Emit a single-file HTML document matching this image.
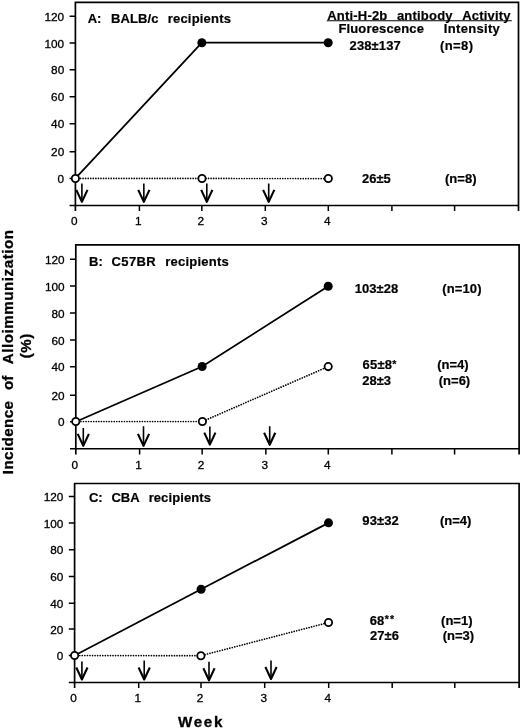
<!DOCTYPE html><html><head><meta charset="utf-8"><title>chart</title><style>
html,body{margin:0;padding:0;background:#fff}svg{display:block;filter:grayscale(1)}
text{font-family:"Liberation Sans",sans-serif;fill:#000}
.b{font-weight:bold;font-size:13px;stroke:#000;stroke-width:.2px}.t{font-size:11.8px;stroke:#000;stroke-width:.3px}.ax{font-weight:bold;font-size:15.2px;stroke:#000;stroke-width:.3px}
.l{fill:none;stroke:#000}
</style></head><body>
<svg width="520" height="728" viewBox="0 0 520 728">
<rect width="520" height="728" fill="#fff"/>
<path class="l" stroke-width="1.7" d="M75.4 211.05V2.3H518.5V211.05"/>
<path class="l" stroke-width="1.5" d="M69.60 205.45H518.5M69.60 16.15H75.4M69.60 42.9H75.4M69.60 69.85H75.4M69.60 96.8H75.4M69.60 123.8H75.4M69.60 151.85H75.4M69.60 178.45H75.4M139.4 205.45V211.05M201.85 205.45V211.05M265.3 205.45V211.05M328.3 205.45V211.05M391.9 205.45V211.05M454.6 205.45V211.05"/>
<text class="t" x="44.50" y="20.75">120</text>
<text class="t" x="44.50" y="47.50">100</text>
<text class="t" x="51.08" y="74.45">80</text>
<text class="t" x="51.08" y="101.40">60</text>
<text class="t" x="51.08" y="128.40">40</text>
<text class="t" x="51.08" y="156.45">20</text>
<text class="t" x="57.62" y="183.05">0</text>
<text class="t" x="71.11" y="225.35">0</text>
<text class="t" x="135.11" y="225.35">1</text>
<text class="t" x="197.56" y="225.35">2</text>
<text class="t" x="261.01" y="225.35">3</text>
<text class="t" x="324.01" y="225.35">4</text>
<text class="b" x="87.74" y="22.5" letter-spacing="0.000">A:</text>
<text class="b" x="111.10" y="22.5" letter-spacing="0.070">BALB/c</text>
<text class="b" x="167.80" y="22.5" letter-spacing="0.186">recipients</text>
<polyline class="l" points="75.4,178.45 202.0,178.45 328.3,178.55" stroke-width="1.7" stroke-linecap="round" stroke-dasharray="0.01 2.55"/>
<polyline class="l" points="75.4,178.45 201.85,42.7 328.2,42.7" stroke-width="1.8"/>
<path class="l" stroke-width="1.6" d="M81.9 183.5V201.90M143.85 183.5V201.90M206.8 183.5V201.90M268.7 183.5V201.90"/>
<path class="l" stroke-width="2.1" stroke-linejoin="round" d="M76.30 189.90L81.9 201.90L87.50 189.90M138.25 189.90L143.85 201.90L149.45 189.90M201.20 189.90L206.8 201.90L212.40 189.90M263.10 189.90L268.7 201.90L274.30 189.90"/>
<circle cx="201.85" cy="42.7" r="4.5"/>
<circle cx="328.2" cy="42.7" r="4.5"/>
<circle cx="75.4" cy="178.45" r="3.65" fill="#fff" stroke="#000" stroke-width="1.8"/>
<circle cx="202.0" cy="178.45" r="3.65" fill="#fff" stroke="#000" stroke-width="1.8"/>
<circle cx="328.3" cy="178.55" r="3.65" fill="#fff" stroke="#000" stroke-width="1.8"/>
<path class="l" stroke-width="1.7" d="M75.8 454.40V244.9H519.1V454.40"/>
<path class="l" stroke-width="1.5" d="M70.00 448.8H519.1M70.00 259.2H75.8M70.00 286.0H75.8M70.00 312.9H75.8M70.00 340.0H75.8M70.00 366.8H75.8M70.00 395.2H75.8M70.00 421.7H75.8M139.6 448.8V454.40M202.15 448.8V454.40M265.85 448.8V454.40M328.3 448.8V454.40M391.9 448.8V454.40M454.6 448.8V454.40"/>
<text class="t" x="44.90" y="263.80">120</text>
<text class="t" x="44.90" y="290.60">100</text>
<text class="t" x="51.47" y="317.50">80</text>
<text class="t" x="51.47" y="344.60">60</text>
<text class="t" x="51.47" y="371.40">40</text>
<text class="t" x="51.47" y="399.80">20</text>
<text class="t" x="58.02" y="426.30">0</text>
<text class="t" x="71.51" y="468.70">0</text>
<text class="t" x="135.31" y="468.70">1</text>
<text class="t" x="197.86" y="468.70">2</text>
<text class="t" x="261.56" y="468.70">3</text>
<text class="t" x="324.01" y="468.70">4</text>
<text class="b" x="89.04" y="266.3" letter-spacing="0.000">B:</text>
<text class="b" x="111.60" y="266.3" letter-spacing="0.344">C57BR</text>
<text class="b" x="165.20" y="266.3" letter-spacing="0.231">recipients</text>
<polyline class="l" points="75.8,421.5 202.4,421.5 328.2,366.6" stroke-width="1.7" stroke-linecap="round" stroke-dasharray="0.01 2.55"/>
<polyline class="l" points="75.8,421.7 202.15,366.5 328.2,286.2" stroke-width="1.8"/>
<path class="l" stroke-width="1.6" d="M83.3 428.1V445.90M143.5 426.2V445.90M209.85 426.4V444.60M269.7 426.2V444.80"/>
<path class="l" stroke-width="2.1" stroke-linejoin="round" d="M77.70 433.90L83.3 445.90L88.90 433.90M137.90 433.90L143.5 445.90L149.10 433.90M204.25 432.60L209.85 444.60L215.45 432.60M264.10 432.80L269.7 444.80L275.30 432.80"/>
<circle cx="202.15" cy="366.5" r="4.5"/>
<circle cx="328.2" cy="286.2" r="4.5"/>
<circle cx="75.8" cy="421.5" r="3.65" fill="#fff" stroke="#000" stroke-width="1.8"/>
<circle cx="202.4" cy="421.5" r="3.65" fill="#fff" stroke="#000" stroke-width="1.8"/>
<circle cx="328.2" cy="366.6" r="3.65" fill="#fff" stroke="#000" stroke-width="1.8"/>
<path class="l" stroke-width="1.7" d="M74.6 688.10V483.5H519.1V688.10"/>
<path class="l" stroke-width="1.5" d="M68.80 682.5H519.1M68.80 496.4H74.6M68.80 523.0H74.6M68.80 549.8H74.6M68.80 576.5H74.6M68.80 603.3H74.6M68.80 628.9H74.6M68.80 655.5H74.6M138.7 682.5V688.10M201.0 682.5V688.10M264.7 682.5V688.10M328.7 682.5V688.10M392.2 682.5V688.10M454.8 682.5V688.10"/>
<text class="t" x="43.70" y="501.00">120</text>
<text class="t" x="43.70" y="527.60">100</text>
<text class="t" x="50.27" y="554.40">80</text>
<text class="t" x="50.27" y="581.10">60</text>
<text class="t" x="50.27" y="607.90">40</text>
<text class="t" x="50.27" y="633.50">20</text>
<text class="t" x="56.82" y="660.10">0</text>
<text class="t" x="70.31" y="702.40">0</text>
<text class="t" x="134.41" y="702.40">1</text>
<text class="t" x="196.71" y="702.40">2</text>
<text class="t" x="260.41" y="702.40">3</text>
<text class="t" x="324.41" y="702.40">4</text>
<text class="b" x="88.94" y="502.4" letter-spacing="0.000">C:</text>
<text class="b" x="111.41" y="502.4" letter-spacing="0.000">CBA</text>
<text class="b" x="148.65" y="502.4" letter-spacing="0.092">recipients</text>
<polyline class="l" points="74.6,655.5 200.9,655.7 328.5,622.5" stroke-width="1.7" stroke-linecap="round" stroke-dasharray="0.01 2.55"/>
<polyline class="l" points="74.6,655.5 201.1,589.2 328.5,522.85" stroke-width="1.8"/>
<path class="l" stroke-width="1.6" d="M81.9 661.5V679.50M144.2 660.5V679.50M209.0 661.8V680.30M271.0 660.5V679.00"/>
<path class="l" stroke-width="2.1" stroke-linejoin="round" d="M76.30 667.50L81.9 679.50L87.50 667.50M138.60 667.50L144.2 679.50L149.80 667.50M203.40 668.30L209.0 680.30L214.60 668.30M265.40 667.00L271.0 679.00L276.60 667.00"/>
<circle cx="201.1" cy="589.2" r="4.5"/>
<circle cx="328.5" cy="522.85" r="4.5"/>
<circle cx="74.6" cy="655.5" r="3.65" fill="#fff" stroke="#000" stroke-width="1.8"/>
<circle cx="200.9" cy="655.7" r="3.65" fill="#fff" stroke="#000" stroke-width="1.8"/>
<circle cx="328.5" cy="622.5" r="3.65" fill="#fff" stroke="#000" stroke-width="1.8"/>
<text class="b" x="338.40" y="32.5" letter-spacing="0.161">Fluorescence</text>
<text class="b" x="443.80" y="32.7" letter-spacing="0.319">Intensity</text>
<text class="b" x="349.60" y="50.4" letter-spacing="0.112">238±137</text>
<text class="b" x="440.00" y="50.4" letter-spacing="0.394">(n=8)</text>
<text class="b" x="361.94" y="183.2" letter-spacing="0.000">26±5</text>
<text class="b" x="445.00" y="183.1" letter-spacing="0.019">(n=8)</text>
<text class="b" x="354.86" y="293.4" letter-spacing="0.000">103±28</text>
<text class="b" x="442.30" y="293.4" letter-spacing="0.110">(n=10)</text>
<text class="b" x="362.50" y="369.2" letter-spacing="0.225">65±8</text>
<text class="b" x="437.19" y="369.2" letter-spacing="0.000">(n=4)</text>
<text class="b" x="362.24" y="384.8" letter-spacing="0.000">28±3</text>
<text class="b" x="438.79" y="384.8" letter-spacing="0.000">(n=6)</text>
<text class="b" x="362.30" y="525.2" letter-spacing="0.113">93±32</text>
<text class="b" x="439.89" y="525.2" letter-spacing="0.000">(n=4)</text>
<text class="b" x="369.82" y="624.6" letter-spacing="0.000">68</text>
<text class="b" x="441.09" y="624.6" letter-spacing="0.000">(n=1)</text>
<text class="b" x="369.90" y="639.8" letter-spacing="0.092">27±6</text>
<text class="b" x="442.69" y="639.8" letter-spacing="0.000">(n=3)</text>
<text class="b" style="font-size:10.5px" x="394.4" y="367.9" text-anchor="middle">*</text>
<text class="b" style="font-size:10.5px" x="386.9" y="623.4" text-anchor="middle">*</text>
<text class="b" style="font-size:10.5px" x="392.0" y="623.4" text-anchor="middle">*</text>
<text class="b" x="327.30" y="19.6" letter-spacing="0.188">Anti-H-2b</text>
<text class="b" x="396.90" y="19.6" letter-spacing="0.218">antibody</text>
<text class="b" x="462.30" y="19.6" letter-spacing="0.179">Activity</text>
<path class="l" d="M326.8 20.8H511.8" stroke-width="1.1"/>
<g transform="translate(13.3 474.2) rotate(-90)"><text class="ax" x="0.00" y="0" letter-spacing="0.397">Incidence</text><text class="ax" x="84.26" y="0" letter-spacing="0.000">of</text><text class="ax" x="109.90" y="0" letter-spacing="0.523">Alloimmunization</text></g>
<g transform="translate(30.7 358.3) rotate(-90)"><text class="ax" x="0.00" y="0" letter-spacing="0.475">(%)</text></g>
<text class="ax" x="178.00" y="727" letter-spacing="1.683">Week</text>
</svg></body></html>
